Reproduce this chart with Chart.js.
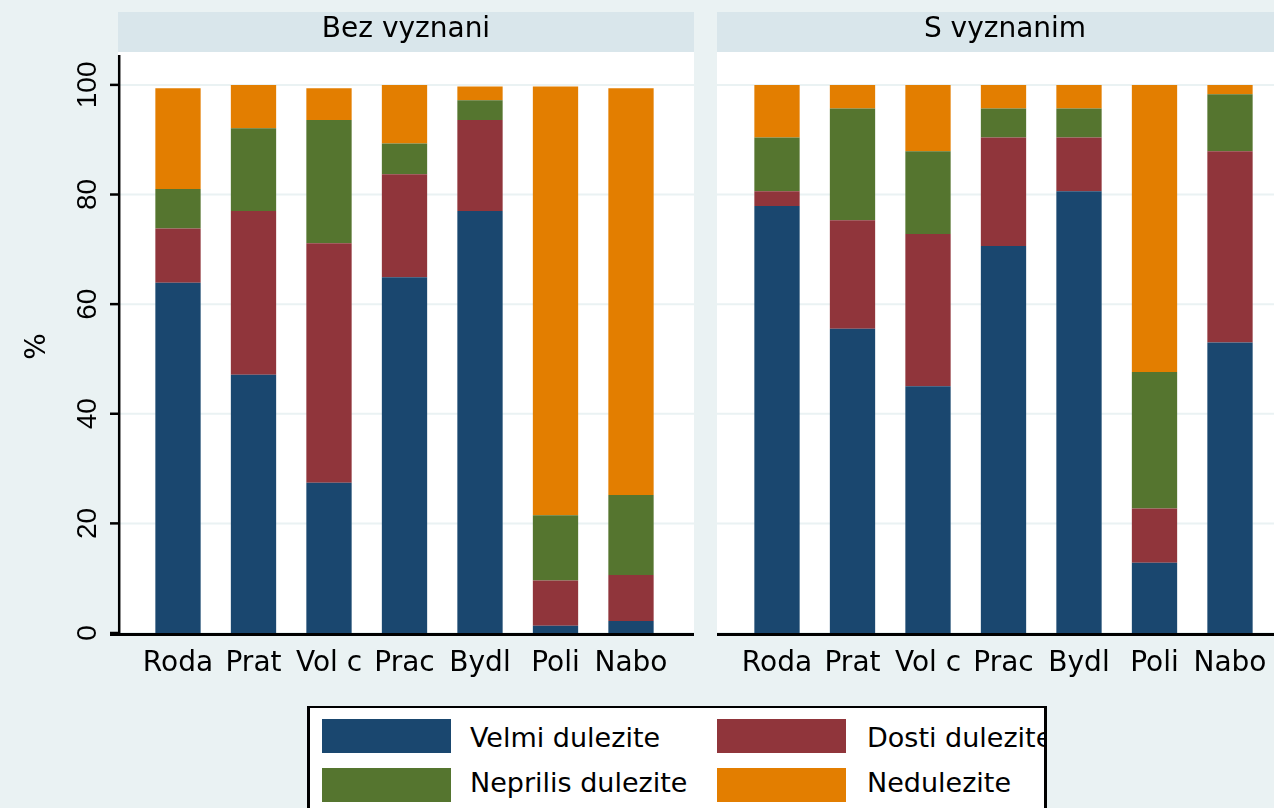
<!DOCTYPE html>
<html><head><meta charset="utf-8">
<script src="https://cdn.jsdelivr.net/npm/chart.js@4.4.1/dist/chart.umd.min.js"></script>
<style>
html,body{margin:0;padding:0;width:1274px;height:808px;overflow:hidden;background:#EAF2F3;}
#wrap{position:relative;width:1274px;height:808px;overflow:hidden;background:#EAF2F3;}
canvas{position:absolute;top:0;}
#c1{left:0;}
#c2{left:599px;}
#legend{position:absolute;left:307px;top:706px;width:740px;height:110px;box-sizing:border-box;border:2px solid #000;border-left-width:3px;border-right-width:3px;background:#fff;overflow:hidden;}
.sw{position:absolute;width:129px;height:34px;}
.lt{position:absolute;font-family:"DejaVu Sans";font-size:27px;line-height:28px;white-space:nowrap;color:#000;}
</style></head><body>
<div id="wrap">
<canvas id="c1" width="700" height="700"></canvas>
<canvas id="c2" width="700" height="700"></canvas>
<div id="legend"></div>
</div>
<script>
const categories = ["Roda","Prat","Vol c","Prac","Bydl","Poli","Nabo"];
const panelTitles = ["Bez vyznani","S vyznanim"];
const seriesNames = ["Velmi dulezite","Dosti dulezite","Neprilis dulezite","Nedulezite"];
const seriesColors = ["#1A476F","#90353B","#55752F","#E37E00"];
const yTicks = [0,20,40,60,80,100];
const yTitle = "%";

// Panel 1: Bez vyznani
const bezVelmi      = [63.9,47.1,27.4,64.9,77.0, 1.3, 2.2];
const bezDosti      = [ 9.9,29.9,43.7,18.8,16.6, 8.3, 8.4];
const bezNeprilis   = [ 7.2,15.1,22.5, 5.6, 3.6,11.9,14.6];
const bezNedulezite = [18.4, 7.9, 5.8,10.7, 2.5,78.2,74.2];

// Panel 2: S vyznanim
const sVelmi      = [77.9,55.5,45.0,70.6,80.6,12.8,53.0];
const sDosti      = [ 2.7,19.8,27.8,19.8, 9.8, 9.9,34.9];
const sNeprilis   = [ 9.8,20.4,15.1, 5.3, 5.3,24.9,10.4];
const sNedulezite = [ 9.6, 4.3,12.1, 4.3, 4.3,52.4, 1.7];

Chart.defaults.font.family = "DejaVu Sans";

function panelPlugin(title, showY){
  return {
    id: 'panel',
    beforeDraw(chart){
      const ctx = chart.ctx, a = chart.chartArea, y = chart.scales.y;
      const left = a.left - 22.25, right = a.right + 25.25;
      ctx.save();
      ctx.fillStyle = '#D9E6EB';
      ctx.fillRect(left, 12, right - left, 40);
      ctx.fillStyle = '#FFFFFF';
      ctx.fillRect(left, a.top, right - left, a.bottom - a.top);
      ctx.fillStyle = '#000';
      ctx.font = '28px "DejaVu Sans"';
      ctx.textAlign = 'center';
      ctx.textBaseline = 'alphabetic';
      ctx.fillText(title, (left + right) / 2, 37);
      ctx.strokeStyle = '#EAF2F3';
      ctx.lineWidth = 2;
      yTicks.forEach(v => {
        const py = y.getPixelForValue(v);
        ctx.beginPath(); ctx.moveTo(left, py); ctx.lineTo(right, py); ctx.stroke();
      });
      ctx.restore();
    },
    afterDraw(chart){
      const ctx = chart.ctx, a = chart.chartArea, y = chart.scales.y;
      const left = a.left - 22.25, right = a.right + 25.25;
      ctx.save();
      ctx.strokeStyle = '#000';
      ctx.lineWidth = 3;
      ctx.beginPath();
      ctx.moveTo(showY ? left - 8 : left, a.bottom + 1.5);
      ctx.lineTo(right, a.bottom + 1.5);
      ctx.stroke();
      if (showY) {
        ctx.lineWidth = 2.5;
        ctx.beginPath();
        ctx.moveTo(left + 1.2, 55);
        ctx.lineTo(left + 1.2, a.bottom);
        ctx.stroke();
        ctx.fillStyle = '#000';
        ctx.font = '28px "Liberation Sans"';
        ctx.textAlign = 'center';
        ctx.textBaseline = 'alphabetic';
        yTicks.forEach(v => {
          const py = y.getPixelForValue(v);
          ctx.beginPath(); ctx.moveTo(left - 8, py); ctx.lineTo(left, py); ctx.stroke();
          ctx.save();
          ctx.translate(96, py);
          ctx.rotate(-Math.PI / 2);
          ctx.fillText(String(v), 0, 0);
          ctx.restore();
        });
        ctx.font = '28px "DejaVu Sans"';
        ctx.save();
        ctx.translate(45, (a.top + a.bottom) / 2 + 4);
        ctx.rotate(-Math.PI / 2);
        ctx.fillText(yTitle, 0, 0);
        ctx.restore();
      }
      ctx.restore();
    }
  };
}

function makeChart(id, series, title, showY){
  return new Chart(document.getElementById(id), {
    type: 'bar',
    data: {
      labels: categories,
      datasets: series.map((d, i) => ({
        label: seriesNames[i],
        data: d,
        backgroundColor: seriesColors[i],
        borderWidth: 0,
        barPercentage: 0.6,
        categoryPercentage: 1.0
      }))
    },
    options: {
      responsive: false,
      animation: false,
      devicePixelRatio: 1,
      layout: { padding: { left: 140.25, right: 31.25, top: 52, bottom: 0 } },
      plugins: { legend: { display: false }, tooltip: { enabled: false } },
      scales: {
        x: {
          stacked: true,
          grid: { display: false, drawTicks: false },
          border: { display: false },
          ticks: { color: '#000', font: { family: 'DejaVu Sans', size: 28 }, autoSkip: false, maxRotation: 0, minRotation: 0, padding: 14 },
          afterFit(s){ s.height = 67; }
        },
        y: { stacked: true, display: false, min: 0, max: 106 }
      }
    },
    plugins: [panelPlugin(title, showY)]
  });
}

makeChart('c1', [bezVelmi, bezDosti, bezNeprilis, bezNedulezite], panelTitles[0], true);
makeChart('c2', [sVelmi, sDosti, sNeprilis, sNedulezite], panelTitles[1], false);

// Legend built from series arrays
const legend = document.getElementById('legend');
const pos = [[12, 11, 160, 15.7], [407, 11, 557, 15.7], [12, 60, 160, 60.7], [407, 60, 557, 60.7]];
const order = [0, 1, 2, 3];
order.forEach((si, k) => {
  const p = pos[k];
  const sw = document.createElement('div');
  sw.className = 'sw';
  sw.style.left = p[0] + 'px'; sw.style.top = p[1] + 'px';
  sw.style.background = seriesColors[si];
  legend.appendChild(sw);
  const t = document.createElement('div');
  t.className = 'lt';
  t.style.left = p[2] + 'px'; t.style.top = p[3] + 'px';
  t.textContent = seriesNames[si];
  legend.appendChild(t);
});
</script>
</body></html>
